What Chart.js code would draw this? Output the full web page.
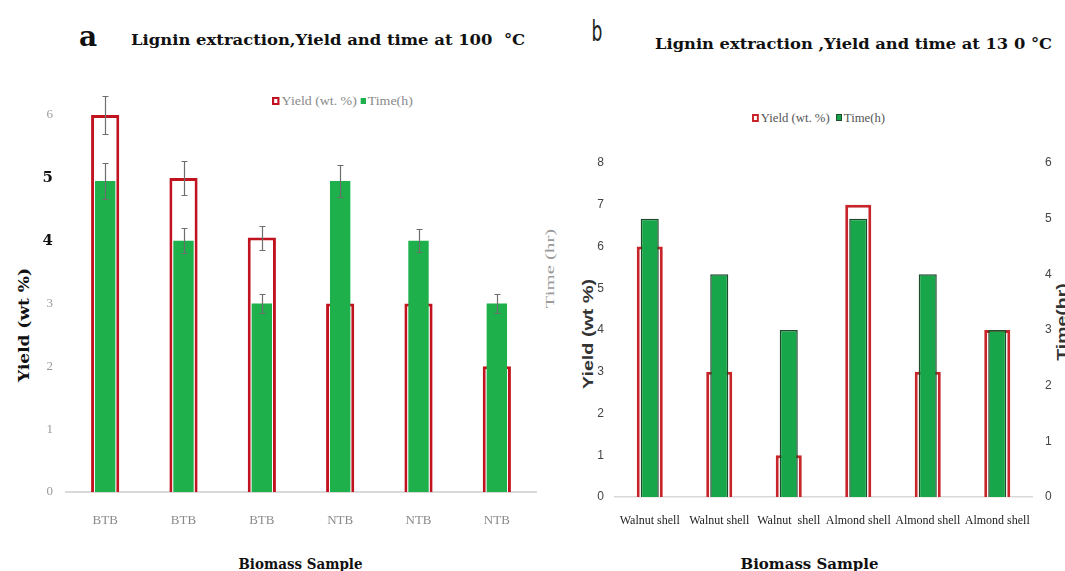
<!DOCTYPE html>
<html lang="en">
<head>
<meta charset="UTF-8">
<title>Lignin extraction, yield and time</title>
<script src="https://cdn.jsdelivr.net/npm/chart.js"></script>
<style>
  body { margin: 0; width: 1065px; height: 571px; overflow: hidden; position: relative; background: #fff; }
  canvas { position: absolute; }
  .t { position: absolute; white-space: pre; line-height: 1; transform-origin: center center; }
  .serifb { font-family: 'DejaVu Serif', serif; font-weight: bold; color: #111; }
  .legend { position: absolute; display: flex; align-items: center; white-space: pre;
            font-family: 'Liberation Serif', serif; font-size: 13px; line-height: 1; }
  .box { display: inline-block; margin-right: 2px; box-sizing: border-box; }
</style>
</head>
<body>

<div class="t serifb" data-cx="88" data-cy="37" style="font-size:28px">a</div>
<div class="t serifb" data-cx="328" data-cy="40" data-w="394" style="font-size:14px">Lignin extraction,Yield and time at 100  °C</div>
<div class="t" data-cx="597" data-cy="32" data-w="11" style="font-family:'DejaVu Sans';font-size:28px;color:#222">b</div>
<div class="t serifb" data-cx="853" data-cy="44" data-w="397" style="font-size:14px">Lignin extraction ,Yield and time at 13 0 °C</div>

<div class="legend" id="legendA" style="left:272px;top:94px;color:#8a8a8a">
  <span class="box" style="width:7px;height:8px;border:2px solid #c1121f;background:#fff"></span><span>Yield (wt. %) </span>
  <span class="box" style="width:5px;height:6px;background:#1db04b"></span><span>Time(h)</span>
</div>
<div class="legend" id="legendB" style="left:752px;top:111px;color:#555">
  <span class="box" style="width:7px;height:8px;border:2px solid #c8252b;background:#fff"></span><span>Yield (wt. %)  </span>
  <span class="box" style="width:6px;height:7px;border:1px solid #1f4a2c;background:#17a64a"></span><span>Time(h)</span>
</div>

<div class="t serifb" data-cx="24" data-cy="325" data-w="114" data-rot="1" style="font-size:14px">Yield (wt %)</div>
<div class="t serifb" data-cx="300" data-cy="564" data-w="124" style="font-size:14px">Biomass Sample</div>
<div class="t" data-cx="550" data-cy="268" data-w="80" data-rot="1" style="font-family:'Liberation Serif';font-size:13px;color:#9a9a9a">Time (hr)</div>
<div class="t" data-cx="588" data-cy="334" data-w="110" data-rot="1" style="font-family:'Liberation Sans';font-weight:bold;font-size:14px;color:#333">Yield (wt %)</div>
<div class="t" data-cx="1062" data-cy="322" data-w="78" data-rot="1" style="font-family:'Liberation Sans';font-weight:bold;font-size:14px;color:#333">Time(hr)</div>
<div class="t serifb" data-cx="809" data-cy="564" data-w="138" style="font-size:14px">Biomass Sample</div>

<canvas id="chartA" width="545" height="527" style="left:0;top:44px"></canvas>
<canvas id="chartB" width="535" height="441" style="left:530px;top:130px"></canvas>

<script>
    // panel a - 100 °C
    const samplesA = ['BTB', 'BTB', 'BTB', 'NTB', 'NTB', 'NTB'];
    const yieldA = [6, 5, 4.05, 3, 3, 2];
    const timeA = [4.95, 4, 3, 4.95, 4, 3];
    const yieldErrA = [0.3, 0.27, 0.19, 0, 0, 0];
    const timeErrA = [0.28, 0.2, 0.15, 0.25, 0.18, 0.15];
    const yTicksA = [0, 1, 2, 3, 4, 5, 6];
    const boldTicksA = [4, 5];   // these two labels are printed bold in the original

    // panel b - 130 °C
    const samplesB = ['Walnut shell', 'Walnut shell', 'Walnut  shell', 'Almond shell', 'Almond shell', 'Almond shell'];
    const yieldB = [6, 3, 1, 7, 3, 4];
    const timeB = [5, 4, 3, 5, 4, 3];

    Chart.defaults.font.family = 'Liberation Serif';
    Chart.defaults.animation = false;

    // text placement / width fitting for the html labels
    document.querySelectorAll('.t').forEach(el => {
        const w = el.offsetWidth;
        const k = el.dataset.w ? (+el.dataset.w / w) : 1;
        el.style.left = (+el.dataset.cx - w / 2) + 'px';
        el.style.top = (+el.dataset.cy - el.offsetHeight / 2) + 'px';
        el.style.transform = (el.dataset.rot ? 'rotate(-90deg) ' : '') + 'scaleX(' + k + ')';
    });
    [['legendA', 141], ['legendB', 133]].forEach(([id, w]) => {
        const el = document.getElementById(id);
        el.style.transformOrigin = 'left center';
        el.style.transform = 'scaleX(' + (w / el.offsetWidth) + ')';
    });

    const isBold = c => !!(c.tick && boldTicksA.includes(c.tick.value));

    // simple error bar plugin, uses the chart's own y scale
    const errorBars = {
        id: 'errorBars',
        afterDatasetsDraw(chart) {
            const ctx = chart.ctx;
            const y = chart.scales.y;
            ctx.save();
            ctx.strokeStyle = '#6e6e6e';
            ctx.lineWidth = 1.2;
            chart.data.datasets.forEach((ds, di) => {
                if (!ds.errors) return;
                chart.getDatasetMeta(di).data.forEach((bar, i) => {
                    const e = ds.errors[i];
                    if (!e) return;
                    const top = Math.round(y.getPixelForValue(ds.data[i] + e)) + 0.5;
                    const bot = Math.round(y.getPixelForValue(ds.data[i] - e)) + 0.5;
                    const x = Math.round(bar.x) + 0.5;
                    ctx.beginPath();
                    ctx.moveTo(x, top); ctx.lineTo(x, bot);
                    ctx.moveTo(x - 3, top); ctx.lineTo(x + 3, top);
                    ctx.moveTo(x - 3, bot); ctx.lineTo(x + 3, bot);
                    ctx.stroke();
                });
            });
            ctx.restore();
        }
    };

    new Chart(document.getElementById('chartA').getContext('2d'), {
        type: 'bar',
        data: {
            labels: samplesA,
            datasets: [{
                label: 'Yield (wt. %)',
                data: yieldA,
                errors: yieldErrA,
                backgroundColor: '#ffffff',
                borderColor: '#c1121f',
                borderWidth: 3,
                grouped: false,
                categoryPercentage: 1,
                barPercentage: 0.36,
                order: 1
            }, {
                label: 'Time(h)',
                data: timeA,
                errors: timeErrA,
                backgroundColor: '#1db04b',
                borderWidth: 0,
                grouped: false,
                categoryPercentage: 1,
                barPercentage: 0.26,
                order: 0
            }]
        },
        options: {
            responsive: false,
            layout: { padding: { top: 5, right: 9, left: 0, bottom: 0 } },
            plugins: { legend: { display: false }, tooltip: { enabled: false } },
            scales: {
                x: {
                    offset: true,
                    grid: { display: false, drawTicks: false },
                    border: { display: true, color: '#d9d9d9', width: 2 },
                    ticks: { padding: 21, color: '#8a8a8a', font: { size: 13 } },
                    afterFit: s => { s.height = 79; }
                },
                y: {
                    min: 0,
                    max: 6.8,
                    grid: { display: false, drawTicks: false },
                    border: { display: false },
                    ticks: {
                        stepSize: 1,
                        padding: 13,
                        color: c => isBold(c) ? '#111' : '#9a9a9a',
                        font: c => isBold(c)
                            ? { family: 'DejaVu Serif', size: 15, weight: 'bold' }
                            : { family: 'Liberation Serif', size: 13 }
                    },
                    afterBuildTicks: s => { s.ticks = s.ticks.filter(t => yTicksA.includes(t.value)); },
                    afterFit: s => { s.width = 66; }
                }
            }
        },
        plugins: [errorBars]
    });

    new Chart(document.getElementById('chartB').getContext('2d'), {
        type: 'bar',
        data: {
            labels: samplesB,
            datasets: [{
                label: 'Yield (wt. %)',
                data: yieldB,
                yAxisID: 'y',
                backgroundColor: '#ffffff',
                borderColor: '#c8252b',
                borderWidth: 3,
                grouped: false,
                categoryPercentage: 1,
                barPercentage: 0.375,
                order: 1
            }, {
                label: 'Time(h)',
                data: timeB,
                yAxisID: 'y2',
                backgroundColor: '#17a64a',
                borderColor: '#1f4a2c',
                borderWidth: 1.5,
                grouped: false,
                categoryPercentage: 1,
                barPercentage: 0.26,
                order: 0
            }]
        },
        options: {
            responsive: false,
            layout: { padding: { top: 33, right: 0, left: 0, bottom: 0 } },
            plugins: { legend: { display: false }, tooltip: { enabled: false } },
            scales: {
                x: {
                    offset: true,
                    grid: { display: false, drawTicks: false },
                    border: { display: true, color: '#d9d9d9', width: 1.5 },
                    ticks: { padding: 17, color: '#222', font: { size: 12 }, maxRotation: 0, minRotation: 0, autoSkip: false },
                    afterFit: s => { s.height = 74; }
                },
                y: {
                    min: 0,
                    max: 8,
                    position: 'left',
                    grid: { display: false, drawTicks: false },
                    border: { display: false },
                    ticks: { stepSize: 1, padding: 11, color: '#444', font: { family: 'Liberation Sans', size: 12 } },
                    afterFit: s => { s.width = 85; }
                },
                y2: {
                    min: 0,
                    max: 6,
                    position: 'right',
                    grid: { display: false, drawTicks: false },
                    border: { display: false },
                    ticks: { stepSize: 1, padding: 13, color: '#444', font: { family: 'Liberation Sans', size: 12 } },
                    afterFit: s => { s.width = 33; }
                }
            }
        }
    });
</script>

</body>
</html>
